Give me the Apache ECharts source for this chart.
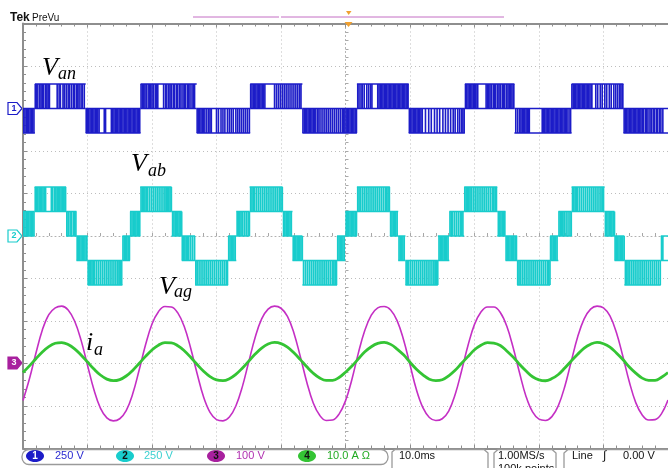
<!DOCTYPE html>
<html><head><meta charset="utf-8">
<script src="https://cdn.jsdelivr.net/npm/echarts@6/dist/echarts.min.js"></script>
<style>html,body{margin:0;padding:0;background:#fff}#c{width:668px;height:468px}</style>
</head><body><div id="c"></div><script>
// ---- data (time in ms, 10 ms/div, trigger at 50 ms) ----
const timeMs = [0,1,2,3,4,5,6,7,8,9,10,11,12,13,14,15,16,17,18,19,20,21,22,23,24,25,26,27,28,29,30,31,32,33,34,35,36,37,38,39,40,41,42,43,44,45,46,47,48,49,50,51,52,53,54,55,56,57,58,59,60,61,62,63,64,65,66,67,68,69,70,71,72,73,74,75,76,77,78,79,80,81,82,83,84,85,86,87,88,89,90,91,92,93,94,95,96,97,98,99,100];
const vagVolts = [-87,-36,24,79,115,131,135,126,100,55,-4,-62,-105,-128,-135,-130,-111,-72,-16,44,93,122,134,133,119,
87,36,-24,-79,-115,-132,-135,-126,-100,-55,4,62,105,128,135,130,111,72,16,-44,-93,-122,-134,-133,-119,
-88,-37,25,78,114,131,134,126,101,56,-3,-62,-104,-127,-134,-130,-112,-73,-17,43,92,121,133,133,120,
88,37,-23,-78,-114,-131,-134,-125,-99,-54,5,63,105,128,135,131,112,73,17,-43,-92,-121,-133,-132,-118,
-86];
const iaAmps = [-2.10,-0.56,1.13,2.72,3.99,4.76,4.93,4.47,3.45,2.00,0.34,-1.31,-2.71,-3.67,-4.05,-3.79,-2.94,-1.62,0.00,1.68,3.19,4.31,4.89,4.85,4.19,
3.00,1.46,-0.23,-1.82,-3.09,-3.86,-4.03,-3.57,-2.55,-1.10,0.56,2.21,3.61,4.57,4.95,4.69,3.84,2.52,0.90,-0.78,-2.29,-3.41,-3.99,-3.95,-3.29,
-2.05,-0.60,1.10,2.75,3.95,4.72,4.96,4.50,3.40,2.04,0.30,-1.35,-2.68,-3.70,-4.02,-3.82,-2.90,-1.60,0.05,1.65,3.22,4.28,4.92,4.82,4.22,
2.96,1.50,-0.25,-1.78,-3.12,-3.84,-4.06,-3.55,-2.58,-1.06,0.60,2.18,3.64,4.54,4.98,4.66,3.87,2.48,0.94,-0.82,-2.26,-3.44,-3.96,-3.98,-3.25,
-2.12];

// phase voltage Van: switching bands (ms) and their two levels (V)
const vanBandTimes = [0,1.84,9.72,18.23,26.93,35.22,43.32,51.77,59.80,68.51,76.19,85.05,93.09,100];
const vanBandLow  = [-144,0,-144,0,-144,0,-144,0,-144,0,-144,0,-144];
const vanBandHigh = [0,144,0,144,0,144,0,144,0,144,0,144,0];
const vanEdges = [0.1,0.3,0.5,0.7,0.9,1.1,1.3,1.5,1.7,
1.9,2.1,2.3,2.6,2.8,3.0,3.2,3.5,3.7,3.9,4.1,5.3,5.6,5.8,6.2,6.4,6.7,7.0,7.2,7.5,7.8,8.0,8.3,8.5,8.7,9.0,9.2,9.5,
9.8,10.0,10.2,10.4,10.6,10.8,11.0,11.2,11.4,11.6,11.8,12.6,12.8,13.7,13.9,14.1,14.3,14.5,14.7,14.9,15.1,15.3,15.5,15.7,15.9,16.1,16.3,16.5,16.7,16.9,17.1,17.3,17.5,17.7,17.9,18.1,
18.3,18.5,18.7,18.9,19.1,19.4,19.6,19.8,20.0,20.2,20.5,20.7,20.9,21.8,22.1,22.3,22.6,22.8,23.0,23.3,23.5,23.8,24.0,24.3,24.5,24.8,25.0,25.2,25.5,25.7,25.9,26.2,26.4,26.6,
27.0,27.2,27.4,27.6,27.8,28.0,28.2,28.5,28.8,29.0,29.2,30.0,30.3,30.7,31.0,31.3,31.7,32.0,32.3,32.6,33.0,33.3,33.6,33.9,34.2,34.5,34.8,35.1,
35.3,35.5,35.7,35.9,36.1,36.3,36.5,36.7,36.9,37.1,37.3,37.5,39.0,39.3,39.6,39.9,40.2,40.5,40.8,41.1,41.4,41.7,42.0,42.3,42.6,42.9,43.1,
43.4,43.6,43.8,44.0,44.2,44.4,44.6,44.8,45.0,45.2,45.4,45.7,45.9,46.2,46.5,46.8,47.1,47.4,47.7,48.0,48.3,48.6,48.9,49.2,49.5,49.7,49.9,50.1,50.3,50.5,50.7,50.9,51.1,51.3,51.5,51.7,
51.9,52.1,52.4,52.6,52.9,53.3,53.6,53.9,54.1,55.0,55.2,55.4,55.6,55.8,56.0,56.2,56.4,56.6,56.8,57.0,57.2,57.4,57.6,57.8,58.0,58.2,58.4,58.6,58.8,59.0,59.2,59.4,59.6,59.7,
59.9,60.1,60.3,60.5,60.7,60.9,61.1,61.3,61.5,61.7,61.9,62.4,62.9,63.3,63.8,64.2,64.6,65.1,65.5,65.9,66.3,66.7,67.0,67.4,67.7,68.0,68.2,68.4,
68.6,68.8,69.0,69.2,69.4,69.6,69.8,70.0,70.2,70.4,70.5,71.8,72.0,72.2,72.4,72.6,72.9,73.1,73.3,73.6,73.8,74.0,74.3,74.5,74.7,75.0,75.2,75.4,75.6,75.8,76.0,76.1,
76.4,76.7,77.0,77.2,77.4,77.6,77.8,78.0,78.2,78.4,78.5,80.5,80.7,80.9,81.1,81.3,81.5,81.7,81.9,82.1,82.3,82.5,82.7,82.9,83.1,83.3,83.5,83.7,83.9,84.1,84.3,84.5,84.8,84.9,
85.1,85.3,85.5,85.7,85.9,86.1,86.3,86.5,86.7,86.9,87.1,87.3,87.5,87.7,87.9,88.1,88.2,88.8,89.1,89.5,89.8,90.2,90.5,90.9,91.2,91.6,91.9,92.2,92.5,92.7,92.9,93.0,
93.2,93.4,93.6,93.8,94.0,94.2,94.4,94.6,94.8,95.0,95.2,95.4,95.6,95.8,96.0,96.2,96.5,96.7,96.9,97.2,97.4,97.7,97.9,98.2,98.4,98.7,98.9,99.2];

// line voltage Vab: five-level bands
const vabBandTimes = [0,1.80,6.68,8.29,10.03,15.41,16.59,18.17,23.04,24.62,26.68,31.80,33.07,35.13,40.25,41.78,43.32,48.69,49.97,51.77,56.88,58.17,59.29,64.32,66.10,68.40,73.53,74.81,76.61,81.72,83.00,85.05,90.17,91.71,93.24,98.88,100];
const vabBandLow  = [0,144,0,-144,-288,-144, 0,144,0,-144,-288,-144, 0,144,0,-144,-288,-144, 0,144,0,-144,-288,-144, 0,144,0,-144,-288,-144, 0,144,0,-144,-288,-144];
const vabBandHigh = [144,288,144,0,-144,0, 144,288,144,0,-144,0, 144,288,144,0,-144,0, 144,288,144,0,-144,0, 144,288,144,0,-144,0, 144,288,144,0,-144,0];
const vabEdges = [0.1,0.3,0.5,0.7,0.9,1.1,1.3,1.5,1.7,
1.9,2.1,2.3,2.5,2.7,2.9,3.1,3.3,3.5,4.4,4.6,4.9,5.1,5.3,5.5,5.7,5.9,6.1,6.3,6.5,6.6,
6.8,7.0,7.3,7.5,7.8,8.0,8.2, 8.4,8.6,8.8,9.0,9.2,9.4,9.6,9.8,9.9,
10.1,10.3,10.5,10.7,10.9,11.1,11.4,11.7,12.0,12.3,12.6,12.9,13.2,13.5,13.8,14.1,14.4,14.7,14.9,15.1,15.3,
15.5,15.7,15.9,16.1,16.3,16.5, 16.7,16.9,17.1,17.3,17.5,17.7,17.9,18.1,
18.3,18.5,18.7,18.9,19.1,19.3,19.6,19.9,20.2,20.5,20.8,21.1,21.4,21.7,22.0,22.2,22.4,22.6,22.8,23.0,
23.2,23.4,23.6,23.8,24.0,24.2,24.4,24.6, 24.7,24.9,25.1,25.3,25.5,25.7,26.0,26.3,26.6,
26.8,27.0,27.3,27.6,27.9,28.2,28.5,28.8,29.1,29.4,29.7,30.0,30.3,30.6,30.9,31.2,31.5,31.7,
31.9,32.1,32.3,32.5,32.7,32.9, 33.2,33.4,33.6,33.8,34.0,34.3,34.6,34.9,35.1,
35.3,35.5,35.7,35.9,36.2,36.5,36.8,37.1,37.4,37.7,38.0,38.3,38.6,38.9,39.2,39.5,39.8,40.0,40.2,
40.4,40.6,40.8,41.0,41.2,41.4,41.6, 41.9,42.1,42.3,42.5,42.7,42.9,43.1,43.3,
43.5,43.8,44.1,44.4,44.7,45.0,45.3,45.6,45.9,46.2,46.5,46.8,47.1,47.4,47.7,48.0,48.2,48.4,48.6,
48.8,49.0,49.2,49.4,49.6,49.8, 50.1,50.3,50.5,50.7,50.9,51.1,51.3,51.5,51.7,
51.9,52.1,52.3,52.6,52.9,53.2,53.5,53.8,54.1,54.4,54.7,55.0,55.3,55.6,55.9,56.2,56.4,56.6,56.8,
57.0,57.2,57.4,57.6,57.8,58.0, 58.3,58.5,58.7,58.9,59.1,
59.4,59.6,59.8,60.1,60.4,60.7,61.0,61.3,61.6,61.9,62.2,62.5,62.8,63.1,63.4,63.7,63.9,64.1,64.3,
64.5,64.7,64.9,65.1,65.3,65.5,65.7,65.9, 66.2,66.4,66.6,66.9,67.2,67.5,67.8,68.0,68.2,
68.5,68.7,68.9,69.1,69.3,69.5,69.8,70.1,70.4,70.7,71.0,71.3,71.6,71.9,72.2,72.5,72.8,73.0,73.2,73.4,
73.7,73.9,74.1,74.3,74.5,74.7, 74.9,75.1,75.3,75.5,75.7,75.9,76.1,76.3,76.5,
76.7,76.9,77.1,77.4,77.7,78.0,78.3,78.6,78.9,79.2,79.5,79.8,80.1,80.4,80.7,81.0,81.3,81.5,81.7,
81.8,82.0,82.2,82.4,82.6,82.8, 83.1,83.3,83.5,83.7,83.9,84.2,84.5,84.8,85.0,
85.2,85.4,85.6,85.8,86.0,86.3,86.6,86.9,87.2,87.5,87.8,88.1,88.4,88.7,89.0,89.3,89.6,89.8,90.0,
90.3,90.5,90.7,90.9,91.1,91.3,91.5,91.7, 91.8,92.0,92.2,92.4,92.6,92.8,93.0,93.2,
93.4,93.6,93.8,94.0,94.3,94.6,94.9,95.2,95.5,95.8,96.1,96.4,96.7,97.0,97.3,97.6,97.9,98.2,98.5,98.8,
99.0,99.2];

// channel settings: volts (or amps) per division and zero position (div)
const chScale  = [250, 250, 100, 10];
const chOffset = [3, 0, -3, -3];
const chLabels = ['250 V', '250 V', '100 V', '10.0 A \u03a9'];
const chColors = ['#1c1cc8', '#18cccc', '#c42fc4', '#34c434'];

// ---- build ----
const toDiv = (v, ch) => v / chScale[ch] + chOffset[ch];
function bandData(times, lo, hi, ch) {
  return lo.map((l, i) => [times[i], times[i + 1], toDiv(l, ch), toDiv(hi[i], ch)]);
}
function edgeData(edges, times, lo, hi, ch) {
  return edges.map(t => {
    let i = 0;
    while (i < lo.length - 1 && t >= times[i + 1]) i++;
    return [t, toDiv(lo[i], ch), toDiv(hi[i], ch)];
  });
}
function bandRender(color, w) {
  return (params, api) => {
    const t0 = api.value(0), t1 = api.value(1), lo = api.value(2), hi = api.value(3);
    const a = api.coord([t0, lo]), b = api.coord([t1, lo]), c = api.coord([t0, hi]), d = api.coord([t1, hi]);
    return { type: 'group', children: [
      { type: 'line', shape: { x1: a[0], y1: a[1], x2: b[0], y2: b[1] }, style: { stroke: color, lineWidth: w } },
      { type: 'line', shape: { x1: c[0], y1: c[1], x2: d[0], y2: d[1] }, style: { stroke: color, lineWidth: w } }
    ]};
  };
}
function edgeRender(color, w) {
  return (params, api) => {
    const a = api.coord([api.value(0), api.value(1)]), b = api.coord([api.value(0), api.value(2)]);
    return { type: 'line', shape: { x1: a[0], y1: a[1], x2: b[0], y2: b[1] }, style: { stroke: color, lineWidth: w } };
  };
}
const vagData = timeMs.map((t, i) => [t, toDiv(vagVolts[i], 2)]);
const iaData = timeMs.map((t, i) => [t, toDiv(iaAmps[i], 3)]);

const frameColor = '#8e8e8e';
const dotColor = '#bdbdbd';
function frameX(pos, split) {
  return { gridIndex: 0, type: 'value', min: 0, max: 100, interval: 10, position: pos,
    axisLine: { show: true, onZero: false, lineStyle: { color: frameColor, width: 2 } },
    axisTick: { show: true, inside: true, length: 4, lineStyle: { color: frameColor } },
    minorTick: { show: true, splitNumber: 5, length: 3, lineStyle: { color: frameColor } },
    axisLabel: { show: false },
    splitLine: { show: split, lineStyle: { color: dotColor, type: [1, 3] } } };
}
const crossCommon = { gridIndex: 1, type: 'value', min: -5, max: 5, interval: 1,
  axisLine: { show: true, onZero: true, lineStyle: { color: '#b0b0b0', width: 1, type: [1, 3] } },
  axisTick: { show: true, inside: true, length: 3, lineStyle: { color: '#a8a8a8' } },
  minorTick: { show: true, splitNumber: 5, length: 3, lineStyle: { color: '#a8a8a8' } },
  axisLabel: { show: false }, splitLine: { show: false } };

const serif = '"Liberation Serif","DejaVu Serif",serif';
const sans = '"Liberation Sans",Arial,sans-serif';
function label(text, x, y, size) {
  return { type: 'text', x: x, y: y, z: 100, style: { text: text, font: 'italic ' + size + 'px ' + serif, fill: '#000', verticalAlign: 'middle' } };
}
function chMarker(n, y, color, filled) {
  return { type: 'group', z: 100, children: [
    { type: 'polygon', shape: { points: [[8, y - 6], [17, y - 6], [22, y], [17, y + 6], [8, y + 6]] },
      style: { fill: filled ? color : '#fff', stroke: color, lineWidth: 1.2 } },
    { type: 'text', x: 14, y: y, style: { text: String(n), font: 'bold 9px ' + sans, fill: filled ? '#fff' : color, align: 'center', verticalAlign: 'middle' } }
  ]};
}
function statusCh(n, cx, tx) {
  const c = chColors[n - 1];
  return { type: 'group', z: 100, children: [
    { type: 'ellipse', shape: { cx: cx, cy: 456, rx: 9, ry: 6 }, style: { fill: n === 3 ? '#a8209e' : c } },
    { type: 'text', x: cx, y: 456, style: { text: String(n), font: 'bold 10px ' + sans, fill: n === 1 ? '#fff' : '#111', align: 'center', verticalAlign: 'middle' } },
    { type: 'text', x: tx, y: 456, style: { text: chLabels[n - 1], font: '11px ' + sans, fill: n === 2 ? '#3cd0d0' : (n === 4 ? '#22aa22' : (n === 1 ? '#2a2ad0' : '#b030b0')), verticalAlign: 'middle' } }
  ]};
}
const statusText = (t, x, y) => ({ type: 'text', x: x, y: y, z: 100, style: { text: t, font: '11px ' + sans, fill: '#111', verticalAlign: 'middle' } });
const gray = { stroke: '#9a9a9a', lineWidth: 1.3, fill: 'none' };

const option = {
  animation: false,
  backgroundColor: '#fff',
  grid: [
    { left: 23, top: 23.5, width: 651, height: 425 },
    { left: 23, top: 23.5, width: 651, height: 425 }
  ],
  xAxis: [frameX('bottom', true), frameX('top', false), Object.assign({}, crossCommon)],
  yAxis: [
    { gridIndex: 0, type: 'value', min: -5, max: 5, interval: 1, position: 'left',
      axisLine: { show: true, onZero: false, lineStyle: { color: frameColor, width: 2 } },
      axisTick: { show: true, inside: true, length: 4, lineStyle: { color: frameColor } },
      minorTick: { show: true, splitNumber: 5, length: 3, lineStyle: { color: frameColor } },
      axisLabel: { show: false },
      splitLine: { show: true, lineStyle: { color: dotColor, type: [1, 3] } } },
    Object.assign({}, crossCommon)
  ],
  series: [
    { type: 'custom', name: 'Van outline', xAxisIndex: 0, yAxisIndex: 0, clip: true, silent: true,
      renderItem: bandRender(chColors[0], 1.4), encode: { x: [0, 1], y: [2, 3] },
      data: bandData(vanBandTimes, vanBandLow, vanBandHigh, 0) },
    { type: 'custom', name: 'Van', xAxisIndex: 0, yAxisIndex: 0, clip: true, silent: true,
      renderItem: edgeRender(chColors[0], 1.6), encode: { x: 0, y: [1, 2] },
      data: edgeData(vanEdges, vanBandTimes, vanBandLow, vanBandHigh, 0) },
    { type: 'custom', name: 'Vab outline', xAxisIndex: 0, yAxisIndex: 0, clip: true, silent: true,
      renderItem: bandRender(chColors[1], 1.4), encode: { x: [0, 1], y: [2, 3] },
      data: bandData(vabBandTimes, vabBandLow, vabBandHigh, 1) },
    { type: 'custom', name: 'Vab', xAxisIndex: 0, yAxisIndex: 0, clip: true, silent: true,
      renderItem: edgeRender(chColors[1], 1.7), encode: { x: 0, y: [1, 2] },
      data: edgeData(vabEdges, vabBandTimes, vabBandLow, vabBandHigh, 1) },
    { type: 'line', name: 'Vag', xAxisIndex: 0, yAxisIndex: 0, data: vagData, smooth: 0.4,
      showSymbol: false, sampling: 'none', lineStyle: { color: chColors[2], width: 1.6 }, silent: true },
    { type: 'line', name: 'ia', xAxisIndex: 0, yAxisIndex: 0, data: iaData, smooth: 0.4,
      showSymbol: false, sampling: 'none', lineStyle: { color: chColors[3], width: 2.8 }, silent: true }
  ],
  graphic: [
    { type: 'text', x: 10, y: 18, z: 100, style: { text: 'Tek', font: 'bold 12px ' + sans, fill: '#111', verticalAlign: 'middle' } },
    { type: 'text', x: 32, y: 18, z: 100, style: { text: 'PreVu', font: '10px ' + sans, fill: '#111', verticalAlign: 'middle' } },
    { type: 'line', z: 100, shape: { x1: 193, y1: 17, x2: 279, y2: 17 }, style: { stroke: '#c46ec4', lineWidth: 1 } },
    { type: 'line', z: 100, shape: { x1: 281, y1: 17, x2: 504, y2: 17 }, style: { stroke: '#c46ec4', lineWidth: 1 } },
    { type: 'polygon', z: 101, shape: { points: [[346, 11], [351.5, 11], [348.7, 15]] }, style: { fill: '#f0a030' } },
    { type: 'polygon', z: 101, shape: { points: [[344.5, 22], [352.5, 22], [348.5, 27]] }, style: { fill: '#f0a030' } },
    chMarker(1, 108.5, chColors[0], false),
    chMarker(2, 236, chColors[1], false),
    chMarker(3, 363, '#a8209e', true),
    label('V', 42, 68.5, 26), label('an', 58, 74, 18),
    label('V', 131, 164.5, 26), label('ab', 148, 171.5, 18),
    label('V', 159, 287.5, 26), label('ag', 174, 292, 18),
    label('i', 86, 343.5, 26), label('a', 94, 350, 18),
    { type: 'rect', z: 99, shape: { x: 22, y: 449.5, width: 366, height: 15, r: 7 }, style: gray },
    statusCh(1, 35, 55), statusCh(2, 125, 144), statusCh(3, 216, 236), statusCh(4, 307, 327),
    { type: 'polyline', z: 99, shape: { points: [[392, 468], [392, 452], [395, 449.5], [484, 449.5], [488, 453], [488, 468]] }, style: gray },
    { type: 'polyline', z: 99, shape: { points: [[494, 468], [494, 453], [498, 449.5], [552, 449.5], [556, 453], [556, 468]] }, style: gray },
    { type: 'polyline', z: 99, shape: { points: [[564, 468], [564, 453], [568, 449.5], [668, 449.5]] }, style: gray },
    statusText('10.0ms', 399, 456),
    statusText('1.00MS/s', 498, 456),
    statusText('100k points', 498, 469),
    statusText('Line', 572, 456),
    { type: 'text', x: 603, y: 456, z: 100, style: { text: '\u222b', font: 'italic 12px ' + sans, fill: '#111', verticalAlign: 'middle' } },
    statusText('0.00 V', 623, 456)
  ]
};
const chart = echarts.init(document.getElementById('c'), null, { renderer: 'canvas' });
chart.setOption(option);
</script></body></html>
